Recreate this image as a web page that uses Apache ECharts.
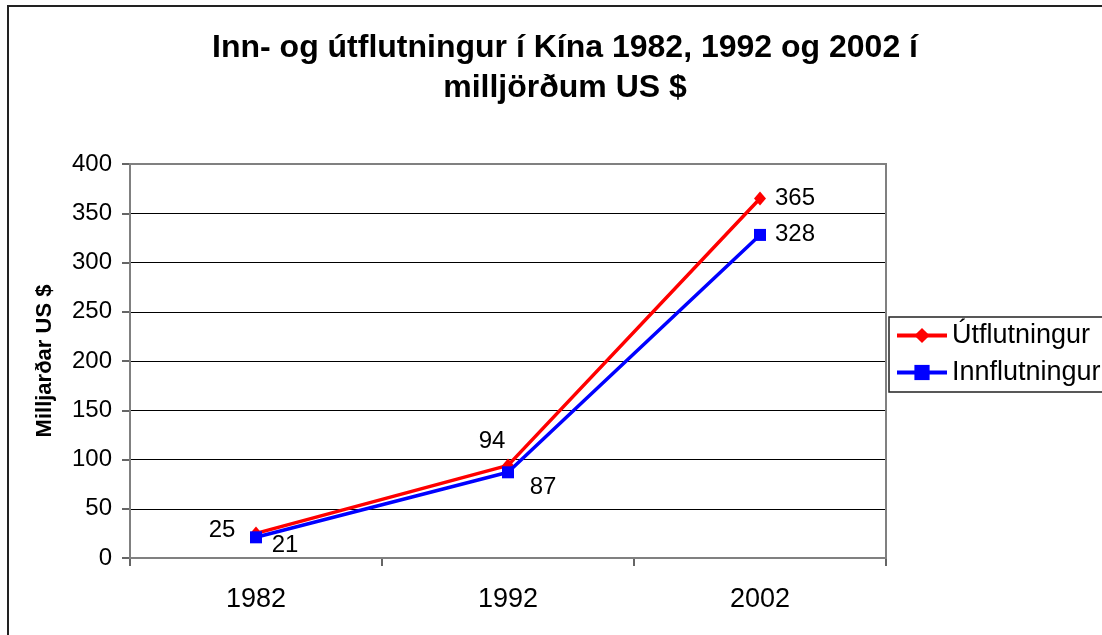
<!DOCTYPE html>
<html><head><meta charset="utf-8">
<script src="https://cdn.jsdelivr.net/npm/echarts@6/dist/echarts.min.js"></script>
<style>html,body{margin:0;padding:0;background:#fff}#c{width:1102px;height:635px}</style>
</head><body><div id="c"></div>
<script>
const categories = ['1982', '1992', '2002'];
const utflutningur = [25, 94, 365];
const innflutningur = [21, 87, 328];
const yTicks = [0, 50, 100, 150, 200, 250, 300, 350, 400];
const utLabelOffsets = [[-34, -3], [-16, -24], [35, 0]];
const innLabelOffsets = [[29, 8], [35, 15], [35, -1]];

const FONT = '"Liberation Sans", Arial, sans-serif';
const labelStyle = {show: true, position: 'inside', fontFamily: FONT, fontSize: 24, color: '#000'};
const chart = echarts.init(document.getElementById('c'), null, {renderer: 'canvas'});
chart.setOption({
  animation: false,
  backgroundColor: '#fff',
  title: {
    text: 'Inn- og útflutningur í Kína 1982, 1992 og 2002 í\nmilljörðum US $',
    left: 560, textAlign: 'center', top: 23,
    textStyle: {fontFamily: FONT, fontWeight: 'bold', fontSize: 32, color: '#000', lineHeight: 40}
  },
  graphic: [
    {type: 'rect', shape: {x: 8, y: 6, width: 1200, height: 700}, style: {fill: 'none', stroke: '#222', lineWidth: 2}, silent: true},
    {type: 'rect', shape: {x: 130, y: 164, width: 756, height: 394}, style: {fill: 'none', stroke: '#808080', lineWidth: 2}, silent: true, z: 1}
  ],
  legend: {
    orient: 'vertical', left: 889, top: 317,
    itemWidth: 50, itemHeight: 19, itemGap: 10,
    padding: [5, 4, 6, 6],
    borderColor: '#222', borderWidth: 1.5,
    lineStyle: {width: 4},
    textStyle: {fontFamily: FONT, fontSize: 27, color: '#000'},
    data: ['Útflutningur', 'Innflutningur']
  },
  grid: {left: 130, top: 164, width: 756, height: 394, containLabel: false},
  xAxis: {
    type: 'category', data: categories, boundaryGap: true,
    axisLine: {lineStyle: {color: '#333', width: 2}},
    axisTick: {show: true, length: 8, inside: false, lineStyle: {color: '#333', width: 1.5}},
    axisLabel: {fontFamily: FONT, fontSize: 27, color: '#000', margin: 28},
    splitLine: {show: false}
  },
  yAxis: {
    type: 'value', min: 0, max: 400, interval: 50,
    name: 'Milljarðar US $', nameLocation: 'middle', nameGap: 74,
    nameTextStyle: {fontFamily: FONT, fontWeight: 'bold', fontSize: 22, color: '#000'},
    axisLine: {show: true, lineStyle: {color: '#555', width: 2}},
    axisTick: {show: true, length: 8, lineStyle: {color: '#333', width: 1.5}},
    axisLabel: {fontFamily: FONT, fontSize: 24, color: '#000', margin: 18,
      formatter: v => yTicks.includes(v) ? String(v) : ''},
    splitLine: {show: true, lineStyle: {color: '#000', width: 1}}
  },
  series: [
    {
      name: 'Útflutningur', type: 'line',
      color: '#ff0000', symbol: 'diamond', symbolSize: [12, 14],
      lineStyle: {color: '#ff0000', width: 3.5},
      itemStyle: {color: '#ff0000'},
      z: 3,
      data: utflutningur.map((v, i) => ({value: v, label: Object.assign({}, labelStyle, {offset: utLabelOffsets[i]})}))
    },
    {
      name: 'Innflutningur', type: 'line',
      color: '#0000ff', symbol: 'rect', symbolSize: 12,
      lineStyle: {color: '#0000ff', width: 3.5},
      itemStyle: {color: '#0000ff'},
      z: 4,
      data: innflutningur.map((v, i) => ({value: v, label: Object.assign({}, labelStyle, {offset: innLabelOffsets[i]})}))
    }
  ]
});
</script></body></html>
